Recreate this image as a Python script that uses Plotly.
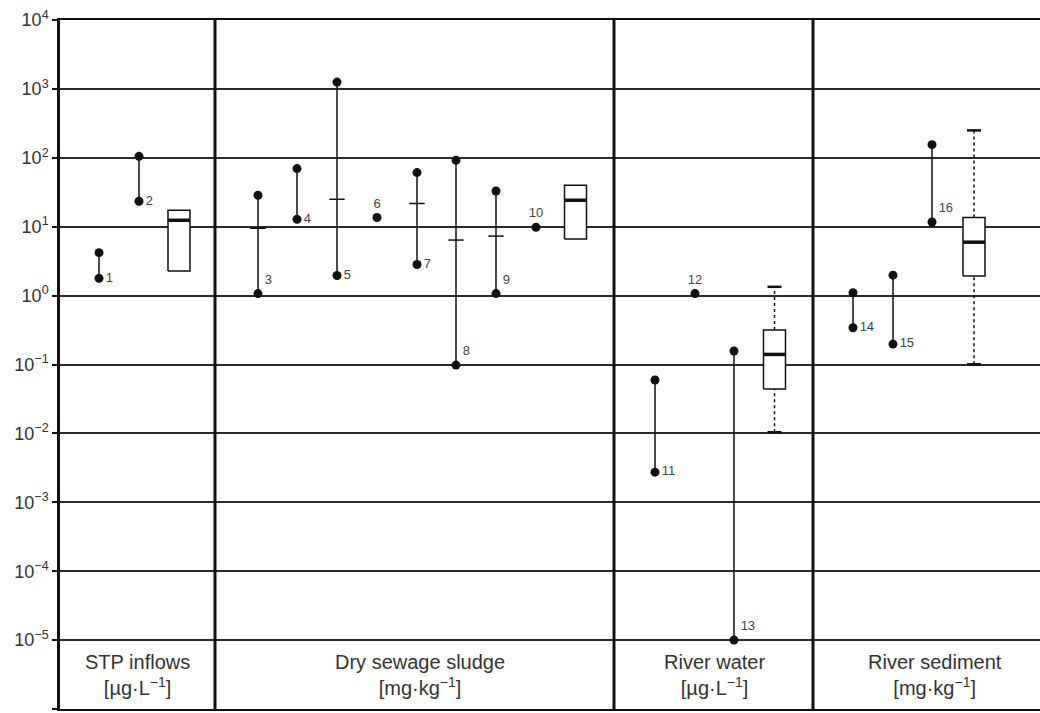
import plotly.graph_objects as go

# ---------------- data ----------------
item_ids = [str(i) for i in range(1, 17)]
item_pos = [99, 139, 258, 297, 337, 377, 417, 456, 496, 536, 655, 695, 734, 853, 893, 932]
item_min = [1.78, 23.4, 1.07, 12.8, 1.96, 13.6, 2.83, 0.098, 1.07, 9.8, 0.00274, 1.07, 1.0e-5, 0.341, 0.198, 11.7]
item_max = [4.2, 105, 28.6, 69.7, 1255, None, 61, 92, 33, None, 0.0596, None, 0.157, 1.1, 1.98, 155]
item_mean = [None, None, 9.5, None, 25, None, 21.7, 6.4, 7.3, None, None, None, None, None, None, None]
label_side = ["middle right", "middle right", "top right", "middle right", "middle right", "top center",
              "middle right", "top right", "top right", "top center", "middle right", "top center",
              "top right", "middle right", "middle right", "top right"]

box_pos = [179, 575.5, 774.5, 974]
box_q1 = [2.27, 6.65, 0.0441, 1.92]
box_med = [12.4, 24.2, 0.14, 5.96]
box_q3 = [17.3, 40, 0.316, 13.6]
box_lo = [None, None, 0.0104, 0.1007]
box_hi = [None, None, 1.34, 250]

section_edges = [215, 614, 813]
category_names = ["STP inflows", "Dry sewage sludge", "River water", "River sediment"]
category_units = ["[µg·L<sup>−1</sup>]", "[mg·kg<sup>−1</sup>]", "[µg·L<sup>−1</sup>]", "[mg·kg<sup>−1</sup>]"]
category_pos = [137, 420, 714, 935]

tick_exps = list(range(-6, 5))
tick_vals = [10.0 ** e for e in tick_exps]
tick_text = ["10<sup>%s</sup>" % (str(e).replace("-", "−")) for e in tick_exps]

# ---------------- figure ----------------
INK = "#111111"
TXT = "#333333"
FONT = "Liberation Sans, Arial, sans-serif"
HALF_BOX = 11

fig = go.Figure()

# range lines
for x, lo, hi in zip(item_pos, item_min, item_max):
    if hi is not None:
        fig.add_trace(go.Scatter(x=[x, x], y=[lo, hi], mode="lines",
                                 line=dict(color=INK, width=1.5), hoverinfo="skip"))

# mean ticks
mx = [x for x, m in zip(item_pos, item_mean) if m is not None]
my = [m for m in item_mean if m is not None]
fig.add_trace(go.Scatter(x=mx, y=my, mode="markers",
                         marker=dict(symbol="line-ew", size=11, line=dict(color=INK, width=1.5)),
                         hoverinfo="skip"))

# max points
tx = [x for x, h in zip(item_pos, item_max) if h is not None]
ty = [h for h in item_max if h is not None]
fig.add_trace(go.Scatter(x=tx, y=ty, mode="markers",
                         marker=dict(symbol="circle", size=9, color=INK), hoverinfo="skip"))

# min points with labels
fig.add_trace(go.Scatter(x=item_pos, y=item_min, mode="markers+text",
                         marker=dict(symbol="circle", size=9, color=INK),
                         text=item_ids, textposition=label_side,
                         textfont=dict(family=FONT, size=13, color="#444444"),
                         hoverinfo="skip"))

# boxes
for x, q1, med, q3, lo, hi in zip(box_pos, box_q1, box_med, box_q3, box_lo, box_hi):
    if hi is not None:
        fig.add_trace(go.Scatter(x=[x, x], y=[q3, hi], mode="lines",
                                 line=dict(color=INK, width=1.5, dash="3px,3px"), hoverinfo="skip"))
        fig.add_trace(go.Scatter(x=[x, x], y=[lo, q1], mode="lines",
                                 line=dict(color=INK, width=1.5, dash="3px,3px"), hoverinfo="skip"))
        fig.add_trace(go.Scatter(x=[x, x], y=[lo, hi], mode="markers",
                                 marker=dict(symbol="line-ew", size=10, line=dict(color=INK, width=2.5)),
                                 hoverinfo="skip"))
    fig.add_trace(go.Scatter(x=[x - HALF_BOX, x + HALF_BOX, x + HALF_BOX, x - HALF_BOX, x - HALF_BOX],
                             y=[q1, q1, q3, q3, q1], mode="lines", fill="toself", fillcolor="white",
                             line=dict(color=INK, width=1.5), hoverinfo="skip"))
    fig.add_trace(go.Scatter(x=[x - HALF_BOX, x + HALF_BOX], y=[med, med], mode="lines",
                             line=dict(color=INK, width=3.5), hoverinfo="skip"))

# section separators
for e in section_edges:
    fig.add_shape(type="line", xref="x", yref="paper", x0=e, x1=e, y0=0, y1=1,
                  line=dict(color=INK, width=3), layer="above")

# category labels
for name, unit, x in zip(category_names, category_units, category_pos):
    fig.add_annotation(x=x, y=-5.5, xref="x", yref="y", text=name + "<br>" + unit,
                       showarrow=False, font=dict(family=FONT, size=20, color=TXT),
                       align="center")

fig.update_layout(
    width=1040, height=713,
    margin=dict(l=60, r=0, t=20, b=4),
    paper_bgcolor="white", plot_bgcolor="white",
    showlegend=False,
    xaxis=dict(range=[60, 1040], showgrid=False, zeroline=False, showticklabels=False,
               ticks="", showline=True, mirror=True, linecolor=INK, linewidth=1.5, fixedrange=True),
    yaxis=dict(type="log", range=[-6, 4], tickvals=tick_vals, ticktext=tick_text,
               showgrid=True, gridcolor="#2a2a2a", gridwidth=1.5,
               ticks="outside", ticklen=5, tickcolor=INK, tickwidth=1.5,
               showline=True, linecolor=INK, linewidth=2.5,
               tickfont=dict(family=FONT, size=18, color=TXT), fixedrange=True),
)

fig.write_html("out.html")
